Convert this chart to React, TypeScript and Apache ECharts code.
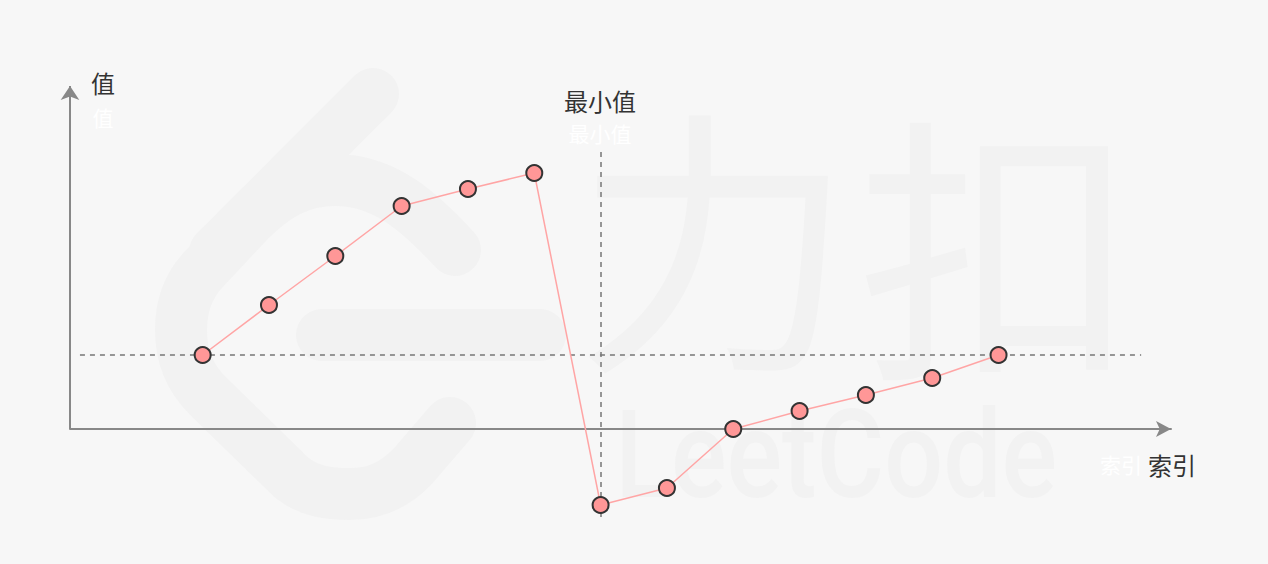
import React, { useEffect, useRef } from "react";
import * as echarts from "echarts";

// ---- data ----
const indices = [2, 3, 4, 5, 6, 7, 8, 9, 10, 11, 12, 13, 14];
const values = [74, 124, 173, 223, 240, 256, -76, -59, 0, 18, 34, 51, 74];
const minIndex = 8;
const thresholdValue = 74;
const yLabel = "值";
const minLabel = "最小值";
const xLabel = "索引";

const logoPath =
  "M455,250 C420,212 385,180 335,180 C300,180 275,195 250,220 L205,268 C188,285 181,305 181,330 C181,358 190,378 208,396 L292,478 C310,492 330,494 350,494 C375,494 395,485 413,466 L450,423 M373,94 L215,252 M322,335 L540,335";

let registered = false;
function ensureShape() {
  if (registered) return;
  echarts.graphic.registerShape("logo", echarts.graphic.extendPath(logoPath, {}) as any);
  registered = true;
}

const CJK = "'Noto Sans CJK SC', 'Noto Sans', sans-serif";
const WM = "#f2f2f2";

function txt(text: string, x: number, y: number, size: number, fill: string, z = 10) {
  return {
    type: "text",
    x,
    y,
    z,
    silent: true,
    style: {
      text,
      fill,
      fontSize: size,
      fontFamily: CJK,
      align: "center",
      verticalAlign: "middle",
      textAlign: "center",
      textVerticalAlign: "middle",
    },
  };
}

export default function App() {
  const ref = useRef<HTMLDivElement>(null);
  useEffect(() => {
    if (!ref.current) return;
    ensureShape();
    const chart = echarts.init(ref.current, undefined, { renderer: "svg" });
    const data = indices.map((x, i) => [x, values[i]]);
    const dashed = { color: "#777", width: 1.5, type: [5, 5] as any };
    chart.setOption({
      animation: false,
      backgroundColor: "#f7f7f7",
      grid: { left: 70, right: 97, top: 82, bottom: 35 },
      xAxis: {
        type: "value",
        min: 0,
        max: 16.6,
        axisLine: {
          show: true,
          onZero: true,
          symbol: ["none", "arrow"],
          symbolSize: [12, 15],
          lineStyle: { color: "#888", width: 2 },
        },
        axisTick: { show: false },
        axisLabel: { show: false },
        splitLine: { show: false },
      },
      yAxis: {
        type: "value",
        min: -100,
        max: 347,
        axisLine: { show: false },
        axisTick: { show: false },
        axisLabel: { show: false },
        splitLine: { show: false },
      },
      graphic: [
        {
          type: "logo",
          x: 0,
          y: 0,
          z: 0,
          silent: true,
          style: { fill: "none", stroke: WM, lineWidth: 52, lineCap: "round", lineJoin: "round" },
        },
        txt("力", 714, 228, 280, WM, 0),
        txt("扣", 997, 236, 280, WM, 0),
        {
          type: "text",
          x: 615,
          y: 456,
          z: 0,
          scaleX: 0.85,
          silent: true,
          style: {
            text: "LeetCode",
            fill: WM,
            fontSize: 122,
            fontFamily: "Roboto, sans-serif",
            fontWeight: 500,
            align: "left",
            verticalAlign: "middle",
            textAlign: "left",
            textVerticalAlign: "middle",
          },
        },
        txt(yLabel, 103, 82, 24, "#333"),
        txt(yLabel, 103, 117, 21, "#ffffff"),
        txt(minLabel, 600, 100, 24, "#333"),
        txt(minLabel, 600, 133, 21, "#ffffff"),
        txt(xLabel, 1172, 464, 24, "#333"),
        txt(xLabel, 1121, 464, 21, "#ffffff"),
      ],
      series: [
        {
          type: "line",
          data,
          clip: false,
          z: 5,
          symbol: "circle",
          symbolSize: 16,
          lineStyle: { color: "#ffa5a5", width: 1.5 },
          itemStyle: { color: "#ff9797", borderColor: "#333", borderWidth: 2 },
          markLine: {
            silent: true,
            symbol: "none",
            label: { show: false },
            z: 3,
            data: [
              [
                { coord: [0.15, thresholdValue], lineStyle: dashed },
                { coord: [16.15, thresholdValue] },
              ],
              [
                { coord: [minIndex, 277], lineStyle: dashed },
                { coord: [minIndex, -91] },
              ],
              [
                {
                  coord: [0, 0],
                  symbol: "none",
                  lineStyle: { color: "#888", width: 2, type: "solid" },
                },
                { coord: [0, 343], symbol: "arrow", symbolSize: 14 },
              ],
            ],
          },
        },
      ],
    });
    return () => chart.dispose();
  }, []);
  return (
    <div
      ref={ref}
      style={{ position: "absolute", left: 0, top: 0, width: 1268, height: 564 }}
    />
  );
}
